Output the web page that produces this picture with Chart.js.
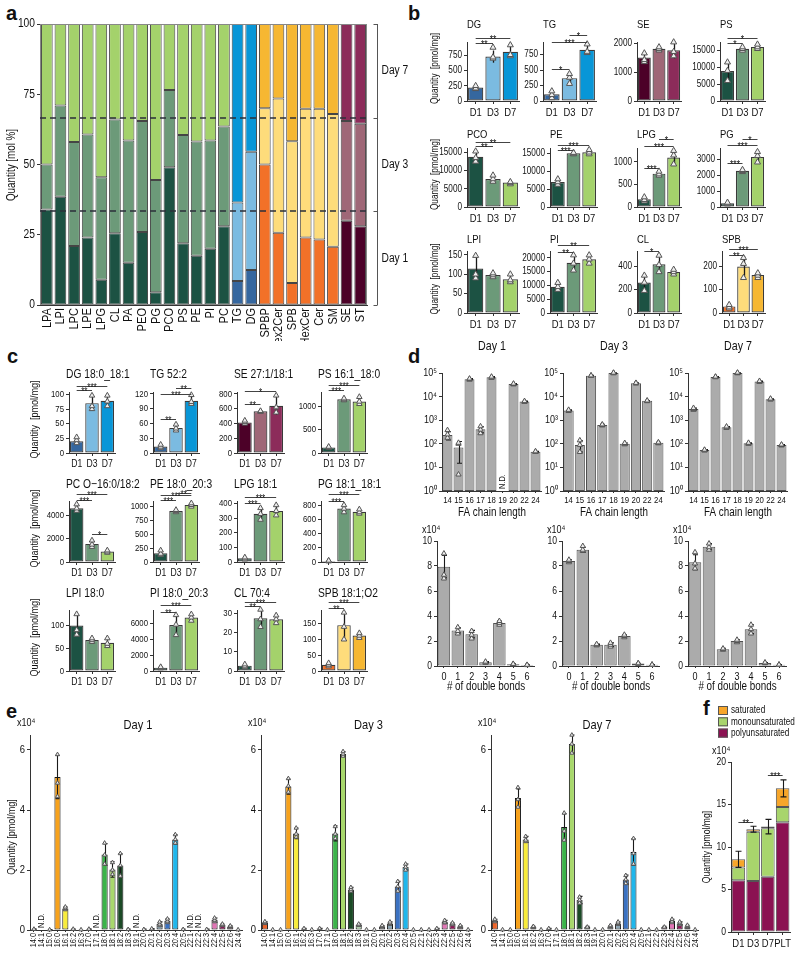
<!DOCTYPE html>
<html><head><meta charset="utf-8">
<script src="https://cdn.jsdelivr.net/npm/chart.js@4.4.1/dist/chart.umd.min.js"></script>
<style>
html,body{margin:0;padding:0;background:#fff}
body{width:800px;height:954px;position:relative;overflow:hidden}
canvas{position:absolute}
.pl{position:absolute;font-family:'Liberation Sans',Arial,sans-serif;font-weight:bold;font-size:20px;line-height:20px;color:#111}
</style></head>
<body>
<div class="pl" style="left:6px;top:3px">a</div>
<div class="pl" style="left:408px;top:3px">b</div>
<div class="pl" style="left:7px;top:346px">c</div>
<div class="pl" style="left:408px;top:346px">d</div>
<div class="pl" style="left:6px;top:701px">e</div>
<div class="pl" style="left:703px;top:698px">f</div>
<script>
// ================= DATA =================
const dayLabels = ['D1','D3','D7'];

// ---- Panel a (mol %) ----
const aCats = ['LPA','LPI','LPC','LPE','LPG','CL','PA','PEO','PG','PCO','PS','PE','PI','PC','TG','DG','SPBP','Hex2Cer','SPB','HexCer','Cer','SM','SE','ST'];
const aDay1 = [34,38.5,21,24,9,25.5,15,26,4.5,49,22,17.5,20,28,8.5,12.5,50,25.7,7.8,24,23.3,20.7,30,28];
const aDay3 = [16,32.5,37,36.7,36.5,40.5,43.5,39.5,40,27.5,38.5,40.7,38.5,35.5,28,42,20,47.8,50.5,45.8,46.5,47.3,35.5,36.5];
const aDay7 = [50,29,42,39.3,54.5,34,41.5,34.5,55.5,23.5,39.5,41.8,41.5,36.5,63.5,45.5,30,26.5,41.7,30.2,30.2,32,34.5,35.5];
const aGroup = ['g','g','g','g','g','g','g','g','g','g','g','g','g','g','b','b','o','o','o','o','o','o','p','p'];
const aTicks = [0,25,50,75,100];
const aDayBounds = [33.33,66.67];
const aDayNames = ['Day 1','Day 3','Day 7'];

// ---- Panel b (pmol/mg) ----
const bTitles = ['DG','TG','SE','PS','PCO','PE','LPG','PG','LPI','PI','CL','SPB'];
const bGroup = ['b','b','p','g','g','g','g','g','g','g','g','o'];
const bMeans = [[220,730,810],[110,370,830],[1500,1800,1750],[8900,15500,16000],[13800,7700,6700],[7000,15000,15300],[170,740,1100],[230,2270,3130],[115,98,87],[9500,18200,19500],[260,415,350],[28,198,162]];
const bSD = [[30,100,90],[50,90,70],[150,70,280],[2600,600,700],[1500,900,400],[700,300,700],[50,50,150],[60,70,350],[30,7,12],[1500,3000,1800],[70,80,25],[10,45,12]];
const bPoints = [
 [[200,210,250],[700,720,880],[740,760,920]],
 [[50,100,160],[280,380,440],[780,800,920]],
 [[1350,1420,1650],[1750,1800,1860],[1550,1700,2030]],
 [[6000,9000,11500],[15000,15500,16000],[15500,16000,16800]],
 [[12500,13500,15300],[7000,7700,8700],[6300,6700,6900]],
 [[6300,7000,7800],[14800,15000,15200],[14800,15300,16000]],
 [[130,160,220],[700,730,790],[950,1150,1250]],
 [[180,230,280],[2200,2270,2330],[2800,3200,3450]],
 [[90,100,148],[93,98,103],[80,85,100]],
 [[8500,9500,11000],[15500,18000,21000],[18000,19500,21000]],
 [[190,260,320],[350,410,490],[330,350,370]],
 [[20,25,35],[150,210,235],[150,160,170]]];
const bSig = [
 [[0,1,950,'**'],[0,2,1040,'**']],
 [[0,1,513,'*'],[0,2,957,'***'],[1,2,1075,'*']],
 [],
 [[0,1,17200,'*'],[0,2,18800,'*']],
 [[0,1,16650,'**'],[0,2,17800,'**']],
 [[0,1,15900,'***'],[0,2,17300,'***']],
 [[0,1,867,'***'],[0,2,1350,'***'],[1,2,1500,'*']],
 [[0,1,2750,'***'],[0,2,3850,'***'],[1,2,4250,'*']],
 [],
 [[0,1,22100,'**'],[0,2,24600,'**']],
 [[0,1,528,'*']],
 [[0,1,246,'**'],[0,2,274,'***']]];
const bMax = [970,955,2035,17500,16200,16500,1310,3690,160,22500,528,264];
const bTicks = [[0,250,500,750],[0,250,500,750],[0,500,1000,1500,2000],[0,5000,10000,15000],[0,5000,10000,15000],[0,5000,10000,15000],[0,500,1000],[0,1000,2000,3000],[0,50,100,150],[0,5000,10000,15000,20000],[0,100,200,300,400,500],[0,50,100,150,200,250]];

// ---- Panel c (pmol/mg) ----
const cTitles = ['DG 18:0_18:1','TG 52:2','SE 27:1/18:1','PS 16:1_18:0','PC O\u221216:0/18:2','PE 18:0_20:3','LPG 18:1','PG 18:1_18:1','LPI 18:0','PI 18:0_20:3','CL 70:4','SPB 18:1;O2'];
const cGroup = ['b','b','p','g','g','g','g','g','g','g','g','o'];
const cMeans = [[20,85,89],[13,51,106],[415,565,640],[120,1150,1100],[4600,1550,900],[160,920,1030],[25,330,350],[15,750,705],[100,68,62],[420,5750,6700],[2.8,27.5,27],[20,145,112]];
const cSD = [[5,12,9],[4,6,9],[20,8,120],[15,25,70],[250,300,120],[60,20,30],[8,40,40],[6,50,30],[25,4,10],[80,1200,400],[0.8,4.5,2],[5,40,8]];
const cPoints = [
 [[17,22,27],[75,80,98],[80,88,98]],
 [[10,13,17],[46,50,58],[100,104,118]],
 [[400,420,440],[560,565,570],[550,620,780]],
 [[110,120,135],[1130,1150,1170],[1050,1100,1200]],
 [[4400,4600,4950],[1300,1500,1850],[800,900,1000]],
 [[130,150,210],[900,920,940],[1000,1030,1060]],
 [[18,25,32],[290,330,370],[320,350,390]],
 [[10,15,20],[700,750,800],[680,700,740]],
 [[80,90,125],[64,68,72],[55,60,72]],
 [[350,450,500],[4500,5800,7000],[6300,6700,7100]],
 [[2,2.5,3.5],[23,27,32],[25,27,29]],
 [[15,20,25],[100,140,185],[105,112,120]]];
const cSig = [
 [[0,1,107,'**'],[0,2,115,'***']],
 [[0,1,70,'**'],[0,2,120,'***'],[1,2,133,'**']],
 [[0,1,667,'**'],[0,2,835,'*']],
 [[0,1,1340,'***'],[0,2,1458,'***']],
 [[0,1,5290,'***'],[0,2,5800,'***'],[1,2,2370,'*']],
 [[0,1,1110,'***'],[0,2,1200,'***'],[1,2,1250,'**']],
 [[0,1,407,'***'],[0,2,445,'***']],
 [[0,1,857,'***'],[0,2,952,'***']],
 [],
 [[0,1,7400,'**'],[0,2,8270,'***']],
 [[0,1,33.7,'**'],[0,2,36,'***']],
 [[0,1,199,'**'],[0,2,217,'***']]];
const cMax = [104,124,827,1305,5230,1100,418,857,134,7630,31.8,193];
const cTicks = [[0,25,50,75,100],[0,30,60,90,120],[0,200,400,600,800],[0,250,500,750,1000,1250],[0,1000,2000,3000,4000,5000],[0,250,500,750,1000],[0,100,200,300,400],[0,200,400,600,800],[0,25,50,75,100,125],[0,2000,4000,6000],[0,10,20,30],[0,50,100,150]];

// ---- Panel d ----
const dDays = ['Day 1','Day 3','Day 7'];
const dChain = ['14','15','16','17','18','19','20','22','24'];
const dChainMean = [
 [235,70,55000,410,66000,null,34000,6200,46],
 [2600,90,77000,630,100000,100,37000,6600,110],
 [3000,54,68000,500,100000,105,44000,7800,89]];
const dChainSD = [
 [90,55,3000,120,4000,0,1500,250,2],
 [150,45,2000,40,3000,8,1000,200,5],
 [250,3,2000,35,3000,5,2000,350,4]];
const dChainPts = [
 [[180,250,380],[5,100,110],[52000,55000,58000],[280,400,550],[62000,66000,70000],[],[33000,34000,35500],[6000,6200,6450],[45,46,48]],
 [[2450,2600,2750],[45,90,140],[75000,77000,79000],[600,630,660],[97000,100000,103000],[95,100,108],[36000,37000,38000],[6400,6600,6800],[105,110,115]],
 [[2750,3000,3300],[52,54,56],[66000,68000,70000],[470,500,540],[97000,100000,104000],[100,105,110],[42000,44000,46000],[7500,7800,8200],[85,89,93]]];
const dChainND = [[5],[],[]];
const dLogTicks = [1,10,100,1000,10000,100000];
const dBonds = ['0','1','2','3','4','5','6'];
const dBondMean = [[7.95,2.85,2.55,0.3,3.45,0.15,0.08],[8.4,9.3,1.7,1.7,2.4,0.2,0.1],[8.3,9.55,1.35,2.0,2.95,0.25,0.1]];
const dBondSD = [[0.9,0.2,0.3,0.05,0.15,0.02,0.02],[0.1,0.2,0.05,0.15,0.1,0.02,0.02],[0.6,0.25,0.07,0.1,0.35,0.03,0.02]];
const dBondPts = [
 [[7.0,7.3,9.0],[2.6,2.8,3.1],[2.2,2.5,2.8],[0.25,0.3,0.35],[3.3,3.45,3.6],[0.13,0.15,0.17],[0.07,0.08,0.09]],
 [[8.3,8.4,8.5],[9.2,9.3,9.6],[1.65,1.7,1.75],[1.55,1.7,1.85],[2.3,2.4,2.5],[0.18,0.2,0.22],[0.09,0.1,0.11]],
 [[7.8,8.2,9.1],[9.3,9.5,9.8],[1.3,1.35,1.4],[1.9,2.0,2.1],[2.6,2.95,3.3],[0.22,0.25,0.28],[0.09,0.1,0.11]]];
const dBondTicks = [0,2,4,6,8,10];

// ---- Panel e (x10^4 pmol/mg) ----
const eCats = ['14:0','14:1','15:0','16:0','16:1','16:2','16:3','17:0','17:1','18:0','18:1','18:2','18:3','19:1','20:0','20:1','20:2','20:3','20:4','20:5','22:1','22:2','22:3','22:4','22:5','22:6','24:4'];
const eMean = [
 [0.03,null,0.01,5.1,0.72,0.03,0.01,0.03,null,2.52,2.02,2.15,0.02,null,0.02,0.04,0.2,0.3,3.02,0.02,null,null,0.02,0.33,0.17,0.12,0.01],
 [0.25,0.01,0.01,4.78,3.22,0.05,0.01,0.05,0.01,3.22,5.87,1.35,0.17,0.01,0.01,0.12,0.22,1.45,2.1,0.01,0.01,0.01,0.05,0.27,0.2,0.12,0.01],
 [0.32,0.01,0.01,4.4,3.02,0.1,0.01,0.05,0.01,3.43,6.2,1.0,0.1,0.01,0.01,0.12,0.22,1.68,2.6,0.01,0.01,0.01,0.1,0.3,0.22,0.12,0.01]];
const eSD = [
 [0.01,0,0.005,0.72,0.05,0.01,0,0.01,0,0.36,0.26,0.4,0.01,0,0.01,0.01,0.07,0.07,0.16,0.01,0,0,0.01,0.07,0.03,0.03,0],
 [0.03,0,0,0.25,0.18,0.01,0,0.01,0,0.25,0.08,0.07,0.03,0,0,0.03,0.05,0.17,0.1,0,0,0,0.01,0.05,0.04,0.03,0],
 [0.04,0,0,0.3,0.1,0.02,0,0.01,0,0.45,0.3,0.12,0.02,0,0,0.03,0.05,0.15,0.45,0,0,0,0.02,0.06,0.05,0.04,0]];
const ePts = [
 [[0.03],[],[0.01],[4.45,4.9,5.85],[0.68,0.72,0.77],[0.03],[0.01],[0.03],[],[2.2,2.5,2.9],[1.85,2.0,2.25],[1.8,2.15,2.55],[0.02],[],[0.02],[0.04],[0.15,0.2,0.27],[0.25,0.3,0.37],[2.9,3.02,3.18],[0.02],[],[],[0.02],[0.28,0.33,0.4],[0.15,0.17,0.2],[0.1,0.12,0.14],[0.01]],
 [[0.22,0.25,0.28],[0.01],[0.01],[4.6,4.8,5.05],[3.1,3.2,3.4],[0.05],[0.01],[0.05],[0.01],[3.05,3.2,3.45],[5.8,5.87,5.95],[1.3,1.35,1.42],[0.15,0.17,0.2],[0.01],[0.01],[0.1,0.12,0.15],[0.2,0.22,0.27],[1.3,1.45,1.62],[2.0,2.1,2.2],[0.01],[0.01],[0.01],[0.05],[0.24,0.27,0.32],[0.18,0.2,0.24],[0.1,0.12,0.15],[0.01]],
 [[0.28,0.32,0.36],[0.01],[0.01],[4.1,4.35,4.75],[2.95,3.0,3.12],[0.09,0.1,0.12],[0.01],[0.05],[0.01],[3.0,3.3,3.9],[5.9,6.2,6.5],[0.9,1.0,1.1],[0.1],[0.01],[0.01],[0.1,0.12,0.15],[0.2,0.22,0.27],[1.55,1.68,1.82],[2.2,2.55,3.05],[0.01],[0.01],[0.01],[0.1],[0.25,0.3,0.36],[0.18,0.22,0.27],[0.09,0.12,0.16],[0.01]]];
const eND = [[1,8,13,20,21],[],[]];
const eTicks = [0,2,4,6];

// ---- Panel f (x10^4 pmol/mg) ----
const fCats = ['D1','D3','D7','PLT'];
const fPoly = [6.1,6.0,6.5,12.9];
const fMono = [1.5,5.8,5.7,1.8];
const fSat = [0.95,0.3,0.2,2.2];
const fTotal = [8.55,12.1,12.4,16.9];
const fSD = [0.95,0.35,0.85,1.0];
const fSig = [[0,1,12.96,'**'],[2,3,18.5,'***']];
const fTicks = [0,5,10,15,20];
const fNames = ['saturated','monounsaturated','polyunsaturated'];

// ================= STYLE / LAYOUT =================
const FF = "'Liberation Sans',Arial,sans-serif";
const NARROW = 0.82; // horizontal condensation of canvas text (figure uses a narrow Arial)
(function () {
  const P = CanvasRenderingContext2D.prototype, of = P.fillText;
  P.fillText = function (t, x, y, mw) {
    this.save(); this.translate(x, y); this.scale(NARROW, 1);
    if (mw === undefined) of.call(this, t, 0, 0); else of.call(this, t, 0, 0, mw / NARROW);
    this.restore();
  };
})();
const AX = '#333';
const PAL = {
 g:['#1c5243','#6c9a79','#a4d26b'],
 b:['#35679f','#7bbbe1','#0896d7'],
 o:['#f27128','#fedc7b','#f6b732'],
 p:['#4c0128','#9f6777','#8c2c5a']};
const eColors = ['#ef6428','#f08a3c','#f4a43a','#f7a21c','#f8ec3c','#b9b23a','#9aa23c','#5e9a3c','#6fa84a','#3cb44a','#a8d86c','#1b4a26','#c6ecc0','#9fb8c8','#c8d2e4','#dfe3f2','#8ca4b2','#3b72c2','#1fb7ec','#5da0d5','#f2c4da','#eab4cf','#e8a2ca','#e174b5','#8f1658','#b16b8a','#a25272'];
const fColors = {sat:'#f7a62a', mono:'#a8d56c', poly:'#8b1252'};
const SUP = ['\u2070','\u00b9','\u00b2','\u00b3','\u2074','\u2075'];

Chart.defaults.font.family = FF;
Chart.defaults.color = '#111';
Chart.defaults.animation = false;
Chart.defaults.responsive = false;
Chart.defaults.maintainAspectRatio = false;
Chart.defaults.devicePixelRatio = 1;
Chart.defaults.plugins.legend.display = false;
Chart.defaults.plugins.tooltip.enabled = false;

function txt(ctx, t, x, y, o) {
  o = o || {};
  ctx.save();
  ctx.font = (o.bold ? 'bold ' : '') + (o.size || 10) + 'px ' + FF;
  ctx.fillStyle = o.color || '#111';
  ctx.textAlign = o.align || 'center';
  ctx.textBaseline = o.base || 'middle';
  ctx.translate(x, y);
  if (o.rot) ctx.rotate(o.rot);
  ctx.fillText(t, 0, 0);
  ctx.restore();
}

function drawErr(chart, e) {
  const ctx = chart.ctx, X = chart.scales.x, Y = chart.scales.y;
  ctx.save(); ctx.strokeStyle = e.color || '#1a1a1a'; ctx.lineWidth = e.w || 1.3;
  e.top.forEach((m, i) => {
    const s = e.sd[i]; if (m == null || !s) return;
    const px = Math.round(X.getPixelForValue(i)) + 0.5;
    let lo = m - s;
    if (Y.type === 'logarithmic' && lo <= Y.min) lo = Y.min;
    const y1 = Y.getPixelForValue(m + s), y0 = Y.getPixelForValue(lo);
    ctx.beginPath(); ctx.moveTo(px, y0); ctx.lineTo(px, y1);
    if (e.cap) { ctx.moveTo(px - e.cap, y1); ctx.lineTo(px + e.cap, y1); ctx.moveTo(px - e.cap, y0); ctx.lineTo(px + e.cap, y0); }
    ctx.stroke();
  });
  ctx.restore();
}

function exPlugin(box, o) {
  const ox = box.L - box.pl, oy = box.T - box.pt;
  return {
    id: 'ex',
    afterDatasetDraw(chart, args) { if (o.err && !o.err.last && args.index === 0) drawErr(chart, o.err); },
    afterDatasetsDraw(chart) {
      const ctx = chart.ctx, X = chart.scales.x, Y = chart.scales.y;
      if (o.err && o.err.last) drawErr(chart, o.err);
      (o.sig || []).forEach(s => {
        const x1 = X.getPixelForValue(s[0]), x2 = X.getPixelForValue(s[1]);
        const yy = Math.round(Y.getPixelForValue(s[2])) + 0.5;
        ctx.save(); ctx.strokeStyle = '#444'; ctx.lineWidth = 1;
        ctx.beginPath(); ctx.moveTo(x1, yy); ctx.lineTo(x2, yy); ctx.stroke(); ctx.restore();
        txt(ctx, s[3], (x1 + x2) / 2, yy + (o.starDy || 4), {size: o.starSize || 10, base: 'alphabetic'});
      });
      (o.nd || []).forEach(i => txt(ctx, 'N.D.', X.getPixelForValue(i), Y.bottom - 2, {size: o.ndSize || 8, align: 'left', rot: -Math.PI / 2}));
      (o.texts || []).forEach(t => txt(ctx, t.t, t.x - ox, t.y - oy, t));
      if (o.draw) o.draw(chart, ctx, ox, oy);
    }
  };
}

function mk(box, cfg, ex) {
  const cv = document.createElement('canvas');
  const w = Math.round(box.R - box.L + box.pl + box.pr), h = Math.round(box.B - box.T + box.pt + box.pb);
  cv.width = w; cv.height = h;
  cv.style.left = (box.L - box.pl) + 'px'; cv.style.top = (box.T - box.pt) + 'px';
  cv.style.width = w + 'px'; cv.style.height = h + 'px';
  document.body.appendChild(cv);
  cfg.options.layout = {padding: {left: 0, top: box.pt, right: box.pr, bottom: 0}};
  cfg.options.scales.x.afterFit = s => { s.height = box.pb; };
  cfg.options.scales.y.afterFit = s => { s.width = box.pl; };
  cfg.plugins = [exPlugin(box, ex || {})];
  return new Chart(cv, cfg);
}

function xAxis(o) {
  return {type: 'category', stacked: !!o.stacked, offset: true,
    grid: {display: o.tl !== 0, drawOnChartArea: false, offset: false, tickLength: o.tl === undefined ? 3 : o.tl, color: AX},
    border: {display: true, color: AX, width: 1},
    ticks: {autoSkip: false, minRotation: o.rot || 0, maxRotation: o.rot || 0, font: {size: o.size || 10}, padding: o.pad === undefined ? 2 : o.pad, color: '#111'}};
}
function yAxis(o) {
  return {type: o.log ? 'logarithmic' : 'linear', stacked: !!o.stacked, min: o.min === undefined ? 0 : o.min, max: o.max,
    grid: {drawOnChartArea: false, tickLength: 3, color: AX},
    border: {display: true, color: AX, width: 1},
    ticks: {font: {size: o.size || 10}, padding: 2, color: '#111', callback: o.fmt || (v => String(v))},
    afterBuildTicks: s => { s.ticks = o.ticks.map(v => ({value: v})); }};
}

function barPts(box, p, ex) {
  const sc = [];
  p.pts.forEach((arr, i) => arr.forEach(v => sc.push({x: p.labels[i], y: v})));
  ex.err = {top: p.means, sd: p.sd, cap: p.cap || 0, w: p.ew || 1.3};
  return mk(box, {
    type: 'bar',
    data: {labels: p.labels, datasets: [
      {type: 'bar', data: p.means, backgroundColor: p.colors, borderColor: p.bc || '#3a3a3a', borderWidth: p.bw === undefined ? 1.2 : p.bw, borderSkipped: false, barPercentage: p.bp || 0.88, categoryPercentage: 1, order: 2},
      {type: 'scatter', data: sc, pointStyle: 'triangle', pointRadius: p.pr || 3.5, pointBackgroundColor: '#eeeeee', pointBorderColor: '#555', pointBorderWidth: 1, order: 1, clip: false}
    ]},
    options: {scales: {x: xAxis(p.x), y: yAxis(p.y)}}
  }, ex);
}

// ================= PANEL a =================
(function () {
  const box = {L: 40, T: 24, R: 367, B: 305, pl: 40, pt: 14, pr: 48, pb: 36};
  const ds = [aDay1, aDay3, aDay7].map((d, k) => ({label: aDayNames[k], data: d, backgroundColor: aGroup.map(g => PAL[g][k]), borderColor: '#454545', borderWidth: 1, borderSkipped: false, barPercentage: 0.86, categoryPercentage: 1}));
  mk(box, {type: 'bar', data: {labels: aCats, datasets: ds},
    options: {scales: {x: xAxis({stacked: true, rot: 90, size: 13.5, tl: 0, pad: 3}), y: yAxis({stacked: true, max: 100, ticks: aTicks, size: 12.5})}}},
    {texts: [{t: 'Quantity [mol %]', x: 12, y: 165, size: 12, rot: -Math.PI / 2}],
     draw(chart, ctx, ox) {
       const ca = chart.chartArea, Y = chart.scales.y;
       ctx.save();
       ctx.strokeStyle = '#888'; ctx.lineWidth = 1;
       ctx.strokeRect(ca.left + 0.5, ca.top + 0.5, ca.right - ca.left - 1, ca.bottom - ca.top - 1);
       ctx.strokeStyle = '#2b2f3a'; ctx.lineWidth = 1.5; ctx.setLineDash([6, 4]);
       aDayBounds.forEach(v => { const y = Math.round(Y.getPixelForValue(v)); ctx.beginPath(); ctx.moveTo(ca.left, y); ctx.lineTo(ca.right + 3, y); ctx.stroke(); });
       ctx.setLineDash([]);
       const bx = 377 - ox + 0.5;
       ctx.strokeStyle = '#555'; ctx.lineWidth = 1; ctx.beginPath();
       ctx.moveTo(bx, Y.getPixelForValue(100)); ctx.lineTo(bx, Y.getPixelForValue(0));
       [0, aDayBounds[0], aDayBounds[1], 100].forEach(v => { const y = Math.round(Y.getPixelForValue(v)) + 0.5; ctx.moveTo(bx - 4, y); ctx.lineTo(bx, y); });
       ctx.stroke(); ctx.restore();
       const b = [0, aDayBounds[0], aDayBounds[1], 100];
       aDayNames.forEach((n, i) => txt(ctx, n, bx + 4, (Y.getPixelForValue(b[i]) + Y.getPixelForValue(b[i + 1])) / 2, {size: 12.5, align: 'left'}));
     }});
})();

// ================= PANEL b =================
const bCols = [[467,520],[543,597],[637,682],[720,766],[467,520],[550,598],[637,682],[720,766],[467,520],[550,598],[637,682],[722,766]];
const bRows = [[42,101,25],[148,207,135],[251,313,240]];
bTitles.forEach((t, k) => {
  const r = bRows[Math.floor(k / 4)], c = bCols[k];
  const box = {L: c[0], T: r[0], R: c[1], B: r[1], pl: k % 4 === 0 ? 40 : 32, pt: 32, pr: 4, pb: 20};
  const texts = [{t: t, x: c[0], y: r[2], size: 11.5, align: 'left'}];
  if (k % 4 === 0) texts.push({t: 'Quantity  [pmol/mg]', x: 435, y: (r[0] + r[1]) / 2 - 3, size: 10, rot: -Math.PI / 2});
  barPts(box, {labels: dayLabels, means: bMeans[k], sd: bSD[k], pts: bPoints[k], colors: PAL[bGroup[k]],
    x: {size: 11.5}, y: {max: bMax[k], ticks: bTicks[k], size: 10}}, {sig: bSig[k], texts: texts, starSize: 10.5});
});

// ================= PANEL c =================
const cCols = [[69,115],[153,199],[237,284],[321,367]];
const cRows = [[392,453,375],[501,562,485],[610,671,594]];
cTitles.forEach((t, k) => {
  const r = cRows[Math.floor(k / 4)], c = cCols[k % 4];
  const box = {L: c[0], T: r[0], R: c[1], B: r[1], pl: k % 4 === 0 ? 42 : 32, pt: 30, pr: 40, pb: 20};
  const texts = [{t: t, x: c[0] - 3, y: r[2], size: 12.5, align: 'left'}];
  if (k % 4 === 0) texts.push({t: 'Quantity  [pmol/mg]', x: 35, y: (r[0] + r[1]) / 2 - 3, size: 11, rot: -Math.PI / 2});
  barPts(box, {labels: dayLabels, means: cMeans[k], sd: cSD[k], pts: cPoints[k], colors: PAL[cGroup[k]], pr: 3.2,
    x: {size: 10.5}, y: {max: cMax[k], ticks: cTicks[k], size: 9.5}}, {sig: cSig[k], texts: texts, starSize: 10});
});

// ================= PANEL d =================
const dTopBox = [[442,542],[563,665],[688,788]];
const dBotBox = [[437,535],[562,660],[688,787]];
dDays.forEach((d, k) => {
  const c = dTopBox[k];
  const box = {L: c[0], T: 373, R: c[1], B: 491, pl: 24, pt: 34, pr: 4, pb: 30};
  barPts(box, {labels: dChain, means: dChainMean[k], sd: dChainSD[k], pts: dChainPts[k], colors: '#ababab', bc: '#505050', bw: 1, bp: 0.9, cap: 2.5, ew: 1.1, pr: 3,
    x: {size: 9.5, tl: 2}, y: {log: true, min: 1, max: 100000, ticks: dLogTicks, size: 11, fmt: v => '10' + SUP[Math.round(Math.log10(v))]}},
    {nd: dChainND[k], ndSize: 9, texts: [{t: d, x: (c[0] + c[1]) / 2, y: 346, size: 13}, {t: 'FA chain length', x: (c[0] + c[1]) / 2, y: 513, size: 12}]});
  const b = dBotBox[k];
  const box2 = {L: b[0], T: 541, R: b[1], B: 666, pl: 20, pt: 16, pr: 4, pb: 28};
  barPts(box2, {labels: dBonds, means: dBondMean[k], sd: dBondSD[k], pts: dBondPts[k], colors: '#ababab', bc: '#505050', bw: 1, bp: 0.9, cap: 2.5, ew: 1.1, pr: 3,
    x: {size: 11, tl: 2}, y: {max: 10, ticks: dBondTicks, size: 10.5}},
    {texts: [{t: 'x10\u2074', x: b[0] - 15, y: 530, size: 11, align: 'left'}, {t: '# of double bonds', x: (b[0] + b[1]) / 2, y: 687, size: 12}]});
});

// ================= PANEL e =================
const eBox = [[30,246],[261,476],[491,703]];
dDays.forEach((d, k) => {
  const c = eBox[k];
  const box = {L: c[0], T: 735, R: c[1], B: 930, pl: k === 0 ? 24 : 16, pt: 22, pr: 4, pb: 24};
  const texts = [{t: d, x: (c[0] + c[1]) / 2, y: 725, size: 13.5}, {t: 'x10\u2074', x: c[0] - 13, y: 723, size: 11, align: 'left'}];
  if (k === 0) texts.push({t: 'Quantity [pmol/mg]', x: 12, y: 837, size: 11, rot: -Math.PI / 2});
  barPts(box, {labels: eCats, means: eMean[k], sd: eSD[k], pts: ePts[k], colors: eColors, bc: '#111', bw: 1, bp: 0.78, cap: 2, ew: 1.1, pr: 2.4,
    x: {size: 9, rot: 90, tl: 2, pad: 1}, y: {max: 6.5, ticks: eTicks, size: 11.5}},
    {nd: eND[k], ndSize: 9, texts: texts});
});

// ================= PANEL f =================
(function () {
  const box = {L: 731, T: 762, R: 790, B: 932, pl: 30, pt: 64, pr: 10, pb: 20};
  const mkDs = (lab, data, col) => ({label: lab, data: data, backgroundColor: col, borderColor: '#555', borderWidth: 1, borderSkipped: false, barPercentage: 0.92, categoryPercentage: 1});
  mk(box, {type: 'bar', data: {labels: fCats, datasets: [
      mkDs(fNames[2], fPoly, fColors.poly), mkDs(fNames[1], fMono, fColors.mono), mkDs(fNames[0], fSat, fColors.sat)]},
    options: {scales: {x: xAxis({stacked: true, size: 11.5}), y: yAxis({stacked: true, max: 20, ticks: fTicks, size: 10.5})}}},
    {err: {top: fTotal, sd: fSD, cap: 3, w: 1.1, last: true}, sig: fSig, starSize: 10.5,
     texts: [{t: 'x10\u2074', x: 712, y: 751, size: 11, align: 'left'}, {t: 'Quantity [pmol/mg]', x: 707, y: 847, size: 10.5, rot: -Math.PI / 2}],
     draw(chart, ctx, ox, oy) {
       const cols = [fColors.sat, fColors.mono, fColors.poly];
       fNames.forEach((n, i) => {
         const y = 706 + i * 11.3 - oy;
         ctx.save(); ctx.fillStyle = cols[i]; ctx.strokeStyle = '#555'; ctx.lineWidth = 1;
         ctx.fillRect(718 - ox, y, 10, 9); ctx.strokeRect(718.5 - ox, y + 0.5, 9, 8); ctx.restore();
         txt(ctx, n, 731 - ox, y + 4.5, {size: 10, align: 'left'});
       });
     }});
})();
</script></body></html>
